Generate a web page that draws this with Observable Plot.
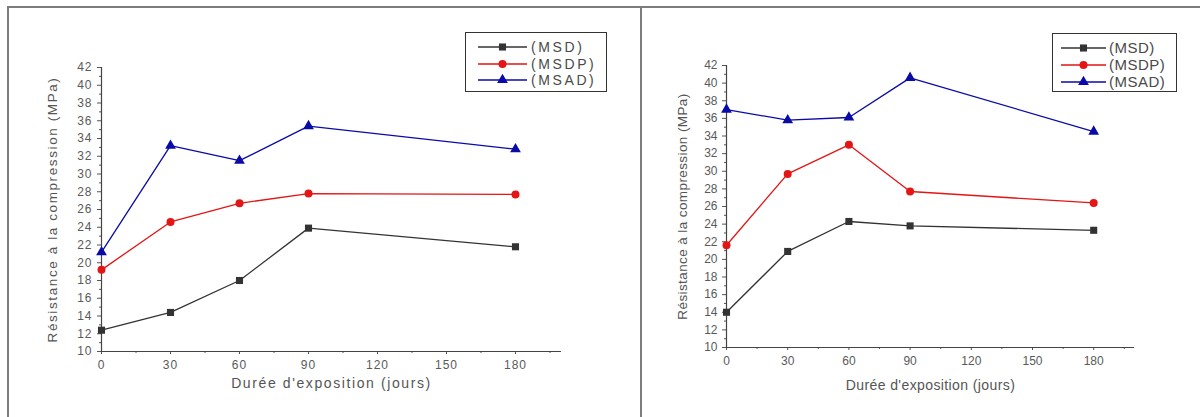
<!DOCTYPE html>
<html><head><meta charset="utf-8">
<script src="https://cdn.jsdelivr.net/npm/d3@7"></script>
<script src="https://cdn.jsdelivr.net/npm/@observablehq/plot@0.6"></script>
<style>
body{margin:0;background:#fff;font-family:Arial,"Liberation Sans",sans-serif;}
#wrap{position:relative;width:1200px;height:417px;overflow:hidden;background:#fff;}
.panel{position:absolute;top:0;}
.panel svg{background:transparent !important;max-width:none !important;}
.bline{position:absolute;background:#7d7d7d;z-index:5;}
.legend{position:absolute;border:1.5px solid #333;background:#fff;box-sizing:border-box;z-index:4;}
.legend .row{display:flex;align-items:center;color:#4a4a4a;white-space:nowrap;}
</style></head><body>
<div id="wrap"></div>
<script>
// ---- data ----
const days = [0, 30, 60, 90, 180];
const series = ["(MSD)", "(MSDP)", "(MSAD)"];
const colors = ["#333333", "#e31515", "#0a0aa8"];
const symbols = ["square", "circle", "triangle"];
const yTicks = [10,12,14,16,18,20,22,24,26,28,30,32,34,36,38,40,42];
const xTicks = [0,30,60,90,120,150,180];
const xLabel = "Durée d'exposition (jours)";
const yLabel = "Résistance à la compression (MPa)";

const leftMSD  = [12.4, 14.4, 18.0, 23.9, 21.8];
const leftMSDP = [19.2, 24.6, 26.7, 27.8, 27.7];
const leftMSAD = [21.2, 33.2, 31.5, 35.4, 32.8];

const rightMSD  = [14.0, 20.9, 24.3, 23.8, 23.3];
const rightMSDP = [21.6, 29.7, 33.0, 27.7, 26.4];
const rightMSAD = [37.0, 35.8, 36.1, 40.6, 34.5];

const wrap = document.getElementById("wrap");

function tidy(vals) {
  const out = [];
  vals.forEach((arr, i) => arr.forEach((v, j) => out.push({day: days[j], value: v, s: series[i]})));
  return out;
}

function panel(vals, o) {
  const data = tidy(vals);
  const font = "Arial, 'Liberation Sans', sans-serif";
  const plot = Plot.plot({
    width: o.width, height: 417,
    marginLeft: o.ml, marginRight: o.mr, marginTop: o.mt, marginBottom: o.mb,
    style: {fontFamily: font, fontSize: "12px", color: "#5a5a5a", background: "transparent", letterSpacing: o.tickSpacing},
    x: {domain: [0, 200], axis: null},
    y: {domain: [10, 42], axis: null},
    color: {domain: series, range: colors},
    symbol: {domain: series, range: symbols},
    marks: [
      Plot.axisY(d3.range(11, 42, 2), {tickSize: 2, text: null, label: null, stroke: "#555"}),
      Plot.axisY(yTicks, {tickSize: 4, tickPadding: 5, label: null, stroke: "#555", fill: "#5a5a5a"}),
      Plot.axisX(d3.range(15, 200, 30), {tickSize: 2, text: null, label: null, stroke: "#555"}),
      Plot.axisX(xTicks, {tickSize: 3, tickPadding: 6, label: null, stroke: "#555", fill: "#5a5a5a"}),
      Plot.ruleX([0], {y1: 10, y2: 42, stroke: "#444", strokeWidth: 1.2}),
      Plot.ruleY([10], {x1: 0, x2: 200, stroke: "#444", strokeWidth: 1.2}),
      Plot.text([yLabel], {frameAnchor: "left", rotate: -90, textAnchor: "middle", lineAnchor: "top", dx: -o.yLabOff, fontSize: 13.5, fill: "#555"}),
      Plot.text([xLabel], {frameAnchor: "bottom", lineAnchor: "middle", dy: o.xLabOff, fontSize: 14, fill: "#555"}),
      Plot.line(data, {x: "day", y: "value", stroke: "s", z: "s", strokeWidth: 1.3}),
      Plot.dot(data, {x: "day", y: "value", fill: "s", symbol: "s", r: 4, stroke: null})
    ]
  });
  plot.querySelectorAll("text").forEach(t => {
    if (t.textContent === xLabel || t.textContent === yLabel) t.style.letterSpacing = o.labSpacing;
  });
  const div = document.createElement("div");
  div.className = "panel";
  div.style.left = o.left + "px";
  div.appendChild(plot);
  wrap.appendChild(div);
}

function legend(o) {
  const box = document.createElement("div");
  box.className = "legend";
  Object.assign(box.style, {left: o.left + "px", top: o.top + "px", width: o.width + "px", height: o.height + "px", paddingLeft: o.padL + "px", paddingTop: o.padT + "px"});
  series.forEach((s, i) => {
    const row = document.createElement("div");
    row.className = "row";
    row.style.height = o.rowH + "px";
    row.style.fontSize = o.fontSize + "px";
    const svg = d3.create("svg").attr("width", o.lineW).attr("height", 12).style("flex", "none");
    svg.append("line").attr("x1", 0).attr("x2", o.lineW).attr("y1", 6).attr("y2", 6).attr("stroke", colors[i]).attr("stroke-width", 1.3);
    const sym = [d3.symbolSquare, d3.symbolCircle, d3.symbolTriangle][i];
    svg.append("path").attr("d", d3.symbol(sym, Math.PI * 16)()).attr("transform", `translate(${o.lineW / 2},6)`).attr("fill", colors[i]);
    row.appendChild(svg.node());
    const sp = document.createElement("span");
    sp.textContent = s;
    sp.style.marginLeft = o.gap + "px";
    sp.style.letterSpacing = o.spacing;
    row.appendChild(sp);
    box.appendChild(row);
  });
  wrap.appendChild(box);
}

panel([leftMSD, leftMSDP, leftMSAD], {left: 0, width: 641, ml: 101, mr: 80, mt: 67, mb: 66, yLabOff: 54, xLabOff: 32, tickSpacing: "1px", labSpacing: "1.6px"});
panel([rightMSD, rightMSDP, rightMSAD], {left: 641, width: 559, ml: 85, mr: 66, mt: 65, mb: 70, yLabOff: 49, xLabOff: 38, tickSpacing: "0px", labSpacing: "0.4px"});

legend({left: 465, top: 32, width: 142, height: 60, padL: 12, padT: 6, rowH: 16.5, lineW: 49, gap: 4, fontSize: 14, spacing: "2.6px"});
legend({left: 1052, top: 33, width: 125, height: 59, padL: 8, padT: 5, rowH: 17, lineW: 45, gap: 3, fontSize: 15, spacing: "0.5px"});

// frame lines
[[7, 6, 1193, 2], [7, 6, 2, 411], [640, 6, 2, 411]].forEach(([l, t, w, h]) => {
  const d = document.createElement("div");
  d.className = "bline";
  Object.assign(d.style, {left: l + "px", top: t + "px", width: w + "px", height: h + "px"});
  wrap.appendChild(d);
});
</script>
</body></html>
